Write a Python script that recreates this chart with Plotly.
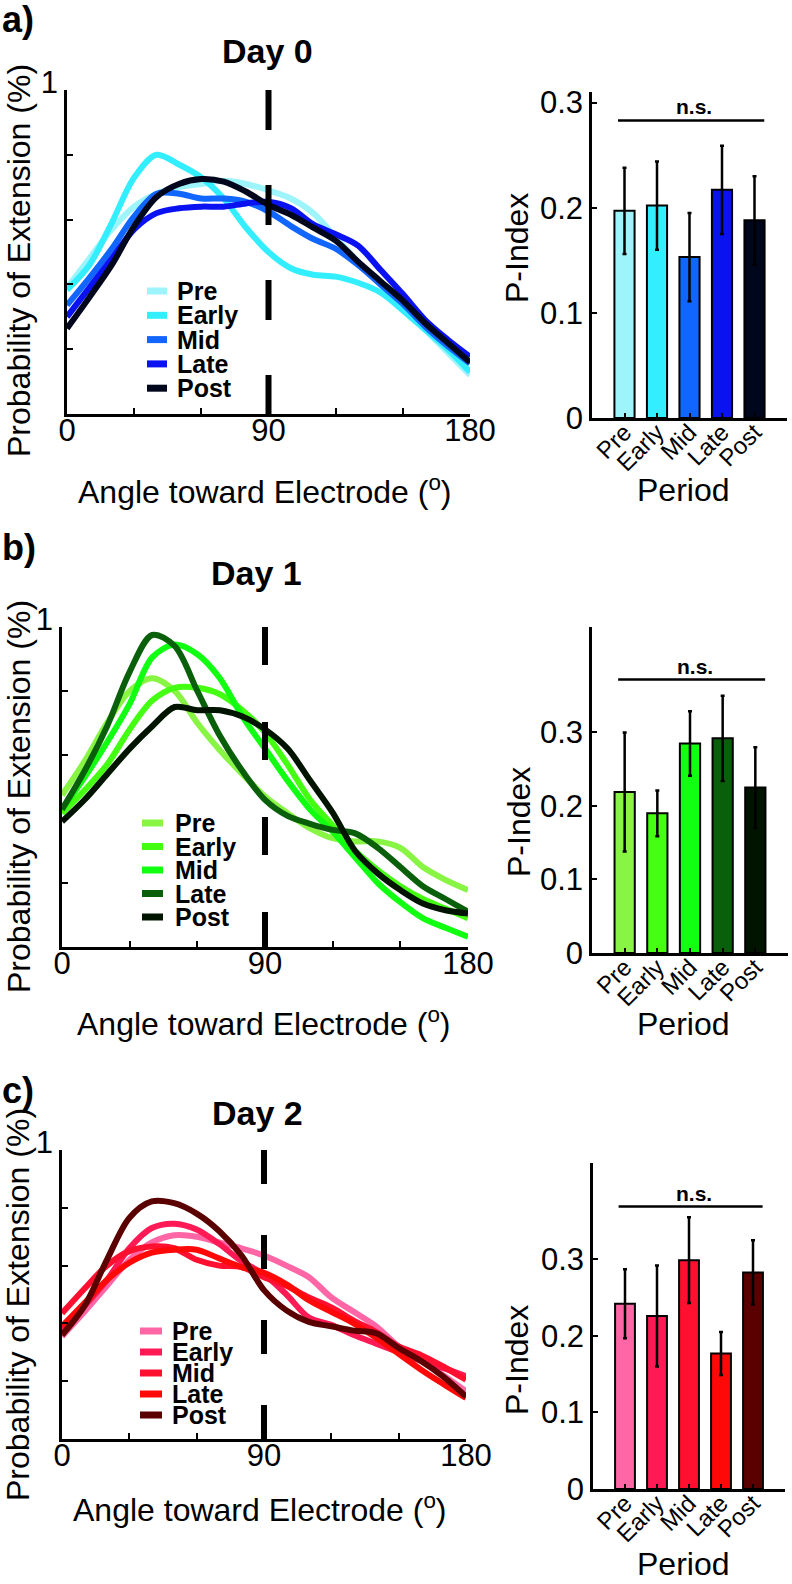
import plotly.graph_objects as go

# ---------------- data ----------------
angles = list(range(0, 181, 10))
periods = ["Pre", "Early", "Mid", "Late", "Post"]
days = ["Day 0", "Day 1", "Day 2"]
panel_tags = ["a)", "b)", "c)"]

day0_pre   = [0.39, 0.48, 0.57, 0.64, 0.68, 0.70, 0.71, 0.72, 0.71, 0.69, 0.665, 0.62, 0.545, 0.47, 0.40, 0.33, 0.26, 0.19, 0.12]
day0_early = [0.383, 0.46, 0.59, 0.73, 0.80, 0.77, 0.73, 0.665, 0.575, 0.50, 0.45, 0.43, 0.424, 0.405, 0.375, 0.32, 0.26, 0.20, 0.13]
day0_mid   = [0.336, 0.42, 0.51, 0.61, 0.68, 0.68, 0.665, 0.665, 0.655, 0.625, 0.58, 0.54, 0.51, 0.46, 0.40, 0.34, 0.27, 0.21, 0.156]
day0_late  = [0.30, 0.39, 0.48, 0.57, 0.62, 0.635, 0.64, 0.64, 0.65, 0.655, 0.635, 0.585, 0.555, 0.52, 0.445, 0.37, 0.29, 0.23, 0.177]
day0_post  = [0.264, 0.36, 0.46, 0.58, 0.67, 0.71, 0.725, 0.717, 0.686, 0.645, 0.615, 0.575, 0.535, 0.47, 0.41, 0.35, 0.28, 0.22, 0.16]

day1_pre   = [0.475, 0.58, 0.70, 0.80, 0.84, 0.80, 0.70, 0.615, 0.54, 0.47, 0.418, 0.371, 0.34, 0.33, 0.33, 0.31, 0.25, 0.21, 0.178]
day1_early = [0.418, 0.49, 0.57, 0.68, 0.77, 0.81, 0.81, 0.79, 0.74, 0.67, 0.57, 0.46, 0.38, 0.30, 0.24, 0.19, 0.15, 0.12, 0.09]
day1_mid   = [0.43, 0.53, 0.64, 0.76, 0.905, 0.945, 0.915, 0.84, 0.72, 0.62, 0.52, 0.43, 0.36, 0.28, 0.20, 0.14, 0.09, 0.06, 0.032]
day1_late  = [0.43, 0.55, 0.69, 0.86, 0.975, 0.94, 0.80, 0.66, 0.55, 0.46, 0.41, 0.385, 0.366, 0.355, 0.31, 0.25, 0.19, 0.15, 0.11]
day1_post  = [0.392, 0.46, 0.54, 0.62, 0.69, 0.75, 0.74, 0.74, 0.72, 0.68, 0.62, 0.52, 0.42, 0.30, 0.23, 0.178, 0.136, 0.115, 0.105]

day2_pre   = [0.355, 0.44, 0.53, 0.62, 0.68, 0.705, 0.70, 0.68, 0.66, 0.635, 0.60, 0.56, 0.49, 0.44, 0.39, 0.32, 0.27, 0.22, 0.165]
day2_early = [0.378, 0.46, 0.55, 0.66, 0.73, 0.745, 0.725, 0.675, 0.615, 0.57, 0.50, 0.42, 0.395, 0.36, 0.33, 0.30, 0.27, 0.245, 0.217]
day2_mid   = [0.435, 0.52, 0.60, 0.65, 0.666, 0.66, 0.62, 0.60, 0.595, 0.56, 0.53, 0.49, 0.455, 0.41, 0.37, 0.32, 0.29, 0.25, 0.205]
day2_late  = [0.39, 0.47, 0.55, 0.61, 0.645, 0.655, 0.655, 0.625, 0.595, 0.575, 0.535, 0.48, 0.44, 0.40, 0.35, 0.295, 0.24, 0.19, 0.142]
day2_post  = [0.36, 0.46, 0.62, 0.765, 0.822, 0.816, 0.78, 0.72, 0.635, 0.515, 0.445, 0.405, 0.39, 0.375, 0.366, 0.315, 0.27, 0.215, 0.147]

pidx_day0 = [0.197, 0.202, 0.153, 0.217, 0.188]
perr_day0 = [0.041, 0.042, 0.042, 0.042, 0.042]
pidx_day1 = [0.219, 0.190, 0.285, 0.292, 0.225]
perr_day1 = [0.081, 0.031, 0.044, 0.058, 0.055]
pidx_day2 = [0.242, 0.226, 0.299, 0.177, 0.283]
perr_day2 = [0.045, 0.066, 0.056, 0.028, 0.042]
ns_level = [0.283, 0.372, 0.369]
electrode_angle = 90

colors_day0 = ["#9DF4FA", "#33EEFF", "#1166FF", "#0A12F2", "#00061C"]
colors_day1 = ["#88F545", "#44FF11", "#11FF11", "#0A5F0A", "#001400"]
colors_day2 = ["#FF66A6", "#FF1A55", "#FF1030", "#FF0808", "#5A0000"]

curves = [
    [day0_pre, day0_early, day0_mid, day0_late, day0_post],
    [day1_pre, day1_early, day1_mid, day1_late, day1_post],
    [day2_pre, day2_early, day2_mid, day2_late, day2_post],
]
pidx = [pidx_day0, pidx_day1, pidx_day2]
perr = [perr_day0, perr_day1, perr_day2]
palettes = [colors_day0, colors_day1, colors_day2]

# ---------------- layout geometry (pixels) ----------------
W, H = 792, 1584
FONT = "Liberation Sans, Arial, sans-serif"


def fx(p):
    return p / W


def fy(p):
    return 1 - p / H


line_box = [((67, 470), (90, 414)), ((62, 468), (627, 947)), ((62, 466), (1150, 1439))]
bar_box = [((592, 787), (92, 418)), ((592, 788), (627, 953)), ((593, 785), (1163, 1489))]
bar_top = [0.31, 0.4435, 0.426]
dash_pat = ["40px,55px", "38px,57px", "34px,51px"]
title_pos = [(267, 51), (256, 573), (257, 1113)]
tag_pos = [(0, 19), (0, 547), (0, 1090)]
ylab_pos = [(19, 261), (19, 797), (18, 1305)]
xlab_pos = [(265, 490), (264, 1022), (260, 1508)]
pidx_lab_pos = [(517, 248), (519, 822), (517, 1360)]
period_lab_pos = [(683, 490), (683, 1024), (683, 1564)]
legend_rows = [(147, 167, 175, 291, 24.3), (142, 163, 173, 823, 23.5), (140, 162, 170, 1331, 21.0)]
ns_x = [0.8, 5.3]

fig = go.Figure()
annotations = []
shapes = []
layout_axes = {}


def ref(i):
    return "" if i == 1 else str(i)


AX = dict(ticks="inside", tickwidth=2, tickcolor="black", showline=True, linewidth=2.5,
          linecolor="black", showgrid=False, zeroline=False, automargin=False)

for k in range(3):
    li = 2 * k + 1
    bi = 2 * k + 2
    for j, name in enumerate(periods):
        fig.add_trace(go.Scatter(
            x=angles, y=curves[k][j], mode="lines", name=name,
            line=dict(color=palettes[k][j], width=6, shape="spline", smoothing=0.9),
            xaxis="x" + ref(li), yaxis="y" + ref(li), showlegend=False,
        ))
    fig.add_trace(go.Scatter(
        x=[electrode_angle, electrode_angle], y=[1, 0], mode="lines",
        line=dict(color="black", width=6, dash=dash_pat[k]),
        xaxis="x" + ref(li), yaxis="y" + ref(li), showlegend=False,
    ))
    fig.add_trace(go.Bar(
        x=[1, 2, 3, 4, 5], y=pidx[k], width=0.62,
        marker=dict(color=palettes[k], line=dict(color="black", width=2)),
        error_y=dict(type="data", array=perr[k], color="black", thickness=2.5, width=2),
        xaxis="x" + ref(bi), yaxis="y" + ref(bi), showlegend=False,
    ))
    fig.add_trace(go.Scatter(
        x=ns_x, y=[ns_level[k], ns_level[k]], mode="lines",
        line=dict(color="black", width=2.5),
        xaxis="x" + ref(bi), yaxis="y" + ref(bi), showlegend=False,
    ))
    annotations.append(dict(
        x=sum(ns_x) / 2 + 0.1, y=ns_level[k], xref="x" + ref(bi), yref="y" + ref(bi),
        text="n.s.", showarrow=False, yanchor="bottom",
        font=dict(family=FONT, size=21, color="black", weight="bold"),
    ))

    (lx0, lx1), (ly0, ly1) = line_box[k]
    layout_axes["xaxis" + ref(li)] = dict(
        AX, domain=[fx(lx0), fx(lx1)], range=[0, 180], anchor="y" + ref(li),
        tickvals=[0, 90, 180], ticktext=["0", "90", "180"], ticklen=6, ticklabelstandoff=-13,
        minor=dict(tickvals=[30, 60, 120, 150], ticks="inside", ticklen=6, tickwidth=2, tickcolor="black", showgrid=False),
        tickfont=dict(family=FONT, size=31, color="black"),
    )
    layout_axes["yaxis" + ref(li)] = dict(
        AX, domain=[fy(ly1), fy(ly0)], range=[0, 1], anchor="x" + ref(li),
        tickvals=[1.0], ticktext=["1"], ticklen=6,
        minor=dict(tickvals=[0.2, 0.4, 0.6, 0.8], ticks="inside", ticklen=6, tickwidth=2, tickcolor="black", showgrid=False),
        tickfont=dict(family=FONT, size=31, color="black"), ticklabelshift=-8,
    )
    (bx0, bx1), (by0, by1) = bar_box[k]
    layout_axes["xaxis" + ref(bi)] = dict(
        AX, domain=[fx(bx0), fx(bx1)], range=[0, 6], anchor="y" + ref(bi),
        tickvals=[1, 2, 3, 4, 5], ticktext=periods, tickangle=-45, ticklen=5, ticklabelstandoff=-12,
        minor=dict(tickvals=[0, 6], ticks="inside", ticklen=5, tickwidth=2, tickcolor="black", showgrid=False),
        tickfont=dict(family=FONT, size=24, color="black"),
    )
    layout_axes["yaxis" + ref(bi)] = dict(
        AX, domain=[fy(by1), fy(by0)], range=[0, bar_top[k]], anchor="x" + ref(bi),
        tickvals=[0, 0.1, 0.2, 0.3], ticktext=["0", "0.1", "0.2", "0.3"], ticklen=5,
        tickfont=dict(family=FONT, size=31, color="black"),
    )

    annotations.append(dict(x=fx(title_pos[k][0]), y=fy(title_pos[k][1]), xref="paper", yref="paper",
                            text=days[k], showarrow=False, xanchor="center", yanchor="middle",
                            font=dict(family=FONT, size=34, color="black", weight="bold")))
    annotations.append(dict(x=fx(tag_pos[k][0]), y=fy(tag_pos[k][1]), xref="paper", yref="paper",
                            text=panel_tags[k], showarrow=False, xanchor="left", yanchor="middle",
                            font=dict(family=FONT, size=36, color="black", weight="bold")))
    annotations.append(dict(x=fx(ylab_pos[k][0]), y=fy(ylab_pos[k][1]), xref="paper", yref="paper",
                            text="Probability of Extension (%)", textangle=-90, showarrow=False,
                            xanchor="center", yanchor="middle",
                            font=dict(family=FONT, size=32, color="black")))
    annotations.append(dict(x=fx(xlab_pos[k][0]), y=fy(xlab_pos[k][1]), xref="paper", yref="paper",
                            text="Angle toward Electrode (<sup>o</sup>)", showarrow=False,
                            xanchor="center", yanchor="middle",
                            font=dict(family=FONT, size=32, color="black")))
    annotations.append(dict(x=fx(pidx_lab_pos[k][0]), y=fy(pidx_lab_pos[k][1]), xref="paper", yref="paper",
                            text="P-Index", textangle=-90, showarrow=False,
                            xanchor="center", yanchor="middle",
                            font=dict(family=FONT, size=32, color="black")))
    annotations.append(dict(x=fx(period_lab_pos[k][0]), y=fy(period_lab_pos[k][1]), xref="paper", yref="paper",
                            text="Period", showarrow=False, xanchor="center", yanchor="middle",
                            font=dict(family=FONT, size=32, color="black")))

    sx0, sx1, tx, ry0, dr = legend_rows[k]
    for j, name in enumerate(periods):
        yy = ry0 + j * dr
        shapes.append(dict(type="line", xref="paper", yref="paper",
                           x0=fx(sx0), x1=fx(sx1), y0=fy(yy), y1=fy(yy),
                           line=dict(color=palettes[k][j], width=7)))
        annotations.append(dict(x=fx(tx), y=fy(yy), xref="paper", yref="paper", text=name,
                                showarrow=False, xanchor="left", yanchor="middle",
                                font=dict(family=FONT, size=25, color="black", weight="bold")))

fig.update_layout(
    width=W, height=H, margin=dict(l=0, r=0, t=0, b=0, autoexpand=False),
    paper_bgcolor="white", plot_bgcolor="white",
    showlegend=False,
    annotations=annotations, shapes=shapes,
    **layout_axes,
)

fig.write_html("out.html")
